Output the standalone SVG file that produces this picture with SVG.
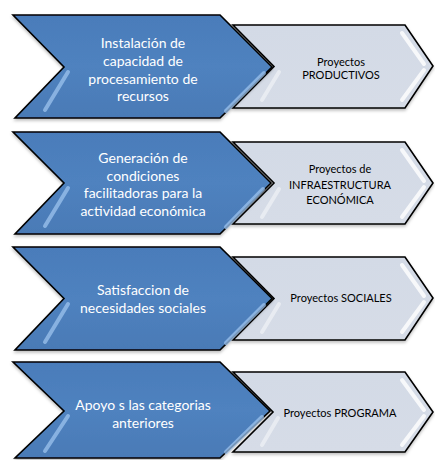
<svg xmlns="http://www.w3.org/2000/svg" width="435" height="460" viewBox="0 0 435 460">
<defs>
<linearGradient id="gBlue" x1="0" y1="0" x2="0" y2="1">
<stop offset="0" stop-color="#4A7CBA"/>
<stop offset="0.5" stop-color="#4F82BF"/>
<stop offset="1" stop-color="#4A7AB6"/>
</linearGradient>
<linearGradient id="gGrey" x1="0" y1="0" x2="0" y2="1">
<stop offset="0" stop-color="#D3DAE6"/>
<stop offset="1" stop-color="#D6DCE7"/>
</linearGradient>
<filter id="sh" x="-5%" y="-5%" width="110%" height="115%">
<feDropShadow dx="0" dy="2" stdDeviation="1.5" flood-color="#000" flood-opacity="0.25"/>
</filter>
</defs>
<style>
.blue{fill:url(#gBlue);stroke:#000;stroke-width:1.6;stroke-linejoin:miter;filter:url(#sh)}
.grey{fill:url(#gGrey);stroke:#000;stroke-width:1.6;stroke-linejoin:miter;filter:url(#sh)}
.hlB{fill:none;stroke:#9CC3EE;stroke-width:4;stroke-linecap:round;opacity:0.75}
.hlG{fill:none;stroke:#FFFFFF;stroke-width:4;stroke-linecap:round;opacity:0.8}
.hlG2{fill:none;stroke:#FFFFFF;stroke-width:4;stroke-linecap:round;opacity:0.45}
.tb{font-family:Lato,"Open Sans",sans-serif;font-size:14px;fill:#FFFFFF;text-anchor:middle}
.tg{font-family:Lato,"Open Sans",sans-serif;font-size:11px;fill:#000000;text-anchor:middle}
</style>

<g id="row1-target">
<polygon class="grey" points="233,25 405,25 433,66 405,108 233,108 274,66.5"/>
<path class="hlG" d="M402,33 L424,64 M424,70 L402,100"/>
<path class="hlG2" d="M279,72 L262,100"/>
<text class="tg" x="341" y="66">Proyectos</text>
<text class="tg" x="341" y="79">PRODUCTIVOS</text>
</g>
<g id="row1-source">
<polygon class="blue" points="13,15 220,15 272,67 220,118 15,118 64,67"/>
<path class="hlB" d="M68,72 L45,110"/>
<path class="hlB" d="M264,73 L226,111"/>
<text class="tb" x="143" y="48">Instalación de</text>
<text class="tb" x="143" y="66">capacidad de</text>
<text class="tb" x="143" y="84">procesamiento de</text>
<text class="tb" x="143" y="101">recursos</text>
</g>

<g id="row2-target">
<polygon class="grey" points="233,142 405,142 433,183 405,224 233,224 274,183"/>
<path class="hlG" d="M402,150 L424,181 M424,187 L402,217"/>
<path class="hlG2" d="M279,189 L262,217"/>
<text class="tg" x="340" y="173">Proyectos de</text>
<text class="tg" x="340" y="189">INFRAESTRUCTURA</text>
<text class="tg" x="340" y="204">ECONÓMICA</text>
</g>
<g id="row2-source">
<polygon class="blue" points="13,132 220,132 271,183 220,234 15,234 64,183"/>
<path class="hlB" d="M68,188 L45,226"/>
<path class="hlB" d="M263,189 L226,227"/>
<text class="tb" x="143" y="163">Generación de</text>
<text class="tb" x="143" y="181">condiciones</text>
<text class="tb" x="143" y="198">facilitadoras para la</text>
<text class="tb" x="143" y="216">actividad económica</text>
</g>

<g id="row3-target">
<polygon class="grey" points="233,257 405,257 433,298 405,340 233,340 274,298.5"/>
<path class="hlG" d="M402,265 L424,296 M424,302 L402,332"/>
<path class="hlG2" d="M279,304 L262,332"/>
<text class="tg" x="341" y="302">Proyectos SOCIALES</text>
</g>
<g id="row3-source">
<polygon class="blue" points="13,247 220,247 272,298.5 220,350 15,350 64,298.5"/>
<path class="hlB" d="M68,304 L45,342"/>
<path class="hlB" d="M264,305 L226,343"/>
<text class="tb" x="143" y="295">Satisfaccion de</text>
<text class="tb" x="143" y="313">necesidades sociales</text>
</g>

<g id="row4-target">
<polygon class="grey" points="233,372 405,372 433,412 405,452 233,452 273,412"/>
<path class="hlG" d="M402,380 L424,410 M424,416 L402,445"/>
<path class="hlG2" d="M278,418 L262,445"/>
<text class="tg" x="340" y="417">Proyectos PROGRAMA</text>
</g>
<g id="row4-source">
<polygon class="blue" points="13,362 220,362 270,411 220,458 15,458 64,411"/>
<path class="hlB" d="M68,416 L45,451"/>
<path class="hlB" d="M262,417 L226,452"/>
<text class="tb" x="143" y="410">Apoyo s las categorias</text>
<text class="tb" x="143" y="428">anteriores</text>
</g>
</svg>
